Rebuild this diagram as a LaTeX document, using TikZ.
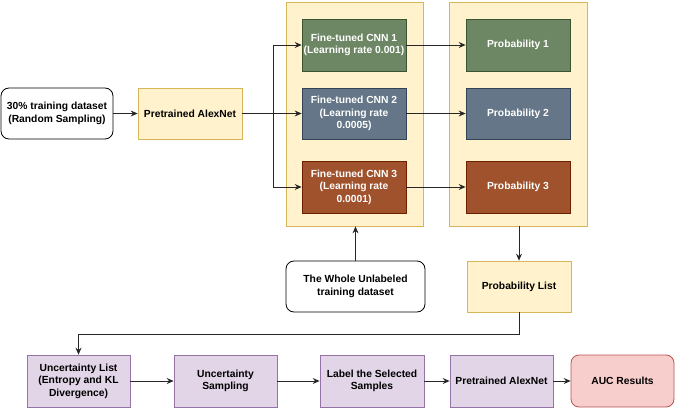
\documentclass[tikz,border=0pt]{standalone}
\usepackage{fontspec}
\setmainfont{Liberation Sans}
\usetikzlibrary{arrows.meta}
\definecolor{yfill}{HTML}{FFF2CC}
\definecolor{ystroke}{HTML}{D6B656}
\definecolor{gfill}{HTML}{6D8764}
\definecolor{gstroke}{HTML}{3A5431}
\definecolor{bfill}{HTML}{647687}
\definecolor{bstroke}{HTML}{314354}
\definecolor{rfill}{HTML}{A0522D}
\definecolor{rstroke}{HTML}{6D1F00}
\definecolor{pfill}{HTML}{E1D5E7}
\definecolor{pstroke}{HTML}{9673A6}
\definecolor{kfill}{HTML}{F8CECC}
\definecolor{kstroke}{HTML}{B85450}
\begin{document}
\begin{tikzpicture}[x=1pt,y=-1pt,
  base/.style={draw, line width=0.8pt, align=center, inner sep=0pt,
    font=\fontsize{10.3}{12.4}\selectfont\bfseries},
  ybox/.style={base, fill=yfill, draw=ystroke},
  wbox/.style={base, fill=white, draw=black, rounded corners=8pt},
  gbox/.style={base, fill=gfill, draw=gstroke, text=white},
  bbox/.style={base, fill=bfill, draw=bstroke, text=white},
  rbox/.style={base, fill=rfill, draw=rstroke, text=white},
  pbox/.style={base, fill=pfill, draw=pstroke},
  kbox/.style={base, fill=kfill, draw=kstroke, rounded corners=8pt},
  arr/.style={draw=black!85, line width=0.75pt, -{Stealth[length=7pt,width=6pt,inset=2.5pt]}}]
\useasboundingbox (0,0) rectangle (675,409);
% containers
\node[ybox, minimum width=137pt, minimum height=224pt] (cont1) at (354.5,114) {};
\node[ybox, minimum width=138pt, minimum height=224pt] (cont2) at (518,114) {};
% top-left
\node[wbox, minimum width=112pt, minimum height=51pt] (src) at (57,113.5) {30\% training dataset\\(Random Sampling)};
\node[ybox, minimum width=104pt, minimum height=51pt] (alex1) at (190,113.5) {Pretrained AlexNet};
% CNNs
\node[gbox, minimum width=104pt, minimum height=52pt] (cnn1) at (354,45) {Fine-tuned CNN 1\\(Learning rate 0.001)};
\node[bbox, minimum width=104pt, minimum height=51pt] (cnn2) at (354,113.5) {Fine-tuned CNN 2\\(Learning rate\\0.0005)};
\node[rbox, minimum width=104pt, minimum height=52pt] (cnn3) at (354,187) {Fine-tuned CNN 3\\(Learning rate\\0.0001)};
% probabilities
\node[gbox, minimum width=104pt, minimum height=52pt] (prob1) at (518,45) {Probability 1};
\node[bbox, minimum width=104pt, minimum height=51pt] (prob2) at (518,113.5) {Probability 2};
\node[rbox, minimum width=104pt, minimum height=52pt] (prob3) at (518,187) {Probability 3};
% middle
\node[wbox, minimum width=139pt, minimum height=51pt] (unl) at (355.5,286.5) {The Whole Unlabeled\\training dataset};
\node[ybox, minimum width=104pt, minimum height=51pt] (plist) at (519,286.5) {Probability List};
% bottom row
\node[pbox, minimum width=103pt, minimum height=52pt] (ul) at (78.5,381) {Uncertainty List\\(Entropy and KL\\Divergence)};
\node[pbox, minimum width=103pt, minimum height=52pt] (us) at (225.5,381) {Uncertainty\\Sampling};
\node[pbox, minimum width=104pt, minimum height=52pt] (ls) at (372,381) {Label the Selected\\Samples};
\node[pbox, minimum width=103pt, minimum height=52pt] (pa2) at (501.5,381) {Pretrained AlexNet};
\node[kbox, minimum width=103pt, minimum height=52pt] (auc) at (622.5,381) {AUC Results};
% connectors
\draw[arr] (src.east) -- (alex1.west);
\coordinate (br) at (273,113.5);
\draw[arr] (alex1.east) -- (cnn2.west);
\draw[arr] (br) |- (cnn1.west);
\draw[arr] (br) |- (cnn3.west);
\draw[arr] (cnn1.east) -- (prob1.west);
\draw[arr] (cnn2.east) -- (prob2.west);
\draw[arr] (cnn3.east) -- (prob3.west);
\draw[arr] (unl.north) -- (unl.north |- cont1.south);
\draw[arr] (cont2.south -| plist.north) -- (plist.north);
\draw[arr] (plist.south) -- ++(0,22) -| (ul.north);
\draw[arr] (ul.east) -- (us.west);
\draw[arr] (us.east) -- (ls.west);
\draw[arr] (ls.east) -- (pa2.west);
\draw[arr] (pa2.east) -- (auc.west);
\end{tikzpicture}
\end{document}
